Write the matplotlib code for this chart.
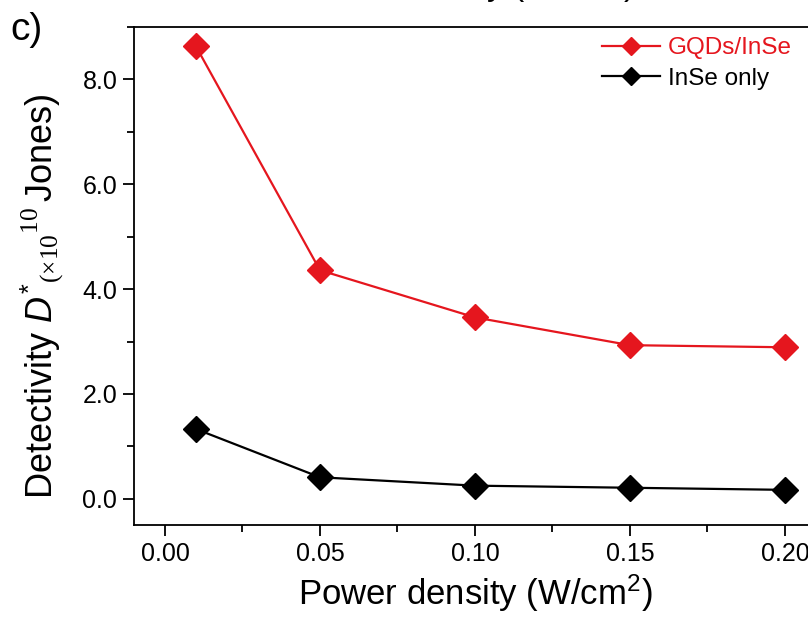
import matplotlib as M
M.use('agg')
import numpy as N
import matplotlib.pyplot as plt
from matplotlib.ticker import MultipleLocator, FormatStrFormatter

plt.rcParams['font.family'] = ['Liberation Sans', 'DejaVu Sans']
plt.rcParams['mathtext.fontset'] = 'custom'
plt.rcParams['mathtext.rm'] = 'Liberation Sans'
plt.rcParams['mathtext.it'] = 'Liberation Sans:italic'
plt.rcParams['mathtext.sf'] = 'Liberation Serif'

# power density (W/cm^2) and detectivity (x1e10 Jones)
power = [0.01, 0.05, 0.10, 0.15, 0.20]
det_gqd = [8.63, 4.36, 3.46, 2.93, 2.89]
det_inse = [1.33, 0.41, 0.25, 0.21, 0.17]
names = ['GQDs/InSe', 'InSe only']

red = '#e5161e'

fig = plt.figure(figsize=(8.08, 6.19), dpi=100)
ax = fig.add_axes([0.1658, 0.1519, 0.844, 0.8045])

ax.plot(power, det_gqd, '-D', color=red, lw=1.6, ms=13, mec=red, label=names[0])
ax.plot(power, det_inse, '-D', color='k', lw=1.6, ms=13, mec='k', label=names[1])

ax.set_xlim(-0.01, 0.21)
ax.set_ylim(-0.5, 9.0)
ax.xaxis.set_major_locator(MultipleLocator(0.05))
ax.xaxis.set_minor_locator(MultipleLocator(0.025))
ax.yaxis.set_major_locator(MultipleLocator(2.0))
ax.yaxis.set_minor_locator(MultipleLocator(1.0))
ax.xaxis.set_major_formatter(FormatStrFormatter('%.2f'))
ax.yaxis.set_major_formatter(FormatStrFormatter('%.1f'))

for s in ax.spines.values():
    s.set_linewidth(1.3)
ax.tick_params(which='major', direction='out', length=8, width=1.3,
               labelsize=18, pad=4, top=False, right=False)
ax.tick_params(which='minor', direction='out', length=5, width=1.3,
               top=False, right=False)

ax.set_xlabel(r'Power density (W/cm$^{2}$)', fontsize=25, labelpad=5)
ax.set_ylabel(r'Detectivity $\mathit{D}^{*}{}_{\mathsf{(\times 10}}'
              r'{}^{\mathsf{10}}\,$Jones)', fontsize=26)
ax.yaxis.set_label_coords(-0.1, 0.46)

leg = ax.legend(loc='upper left', bbox_to_anchor=(0.745, 0.94),
                bbox_transform=fig.transFigure, frameon=False, fontsize=17.5,
                handlelength=2.4, handletextpad=0.3, labelspacing=0.35,
                borderpad=0, borderaxespad=0, markerscale=0.7)
leg.get_texts()[0].set_color(red)

fig.text(10/808, 1 - 40/619, 'c)', fontsize=28, va='baseline')
# axis title of the panel above, cut by the top edge
fig.text(464/808, 1 + 4/619, r'Power density (W/cm$^{2}$)', fontsize=24,
         ha='center', va='baseline')

fig.savefig('out.png', dpi=100)
plt.close(fig)
